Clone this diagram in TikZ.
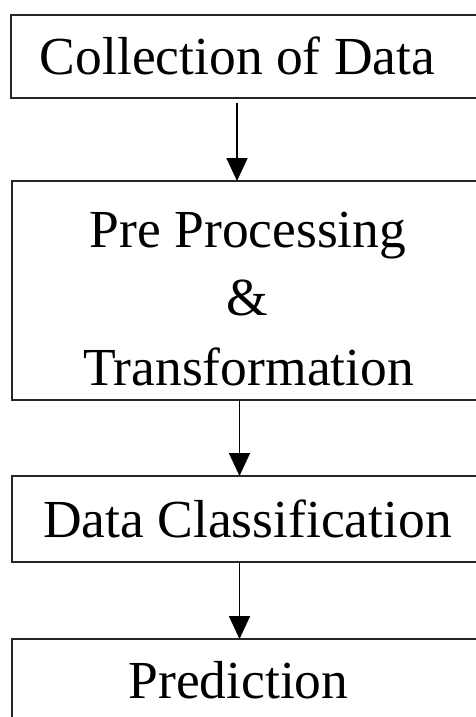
\documentclass[tikz,border=0pt]{standalone}
\usepackage{fontspec}
\setmainfont{Liberation Serif}
\usetikzlibrary{arrows.meta}
\begin{document}
\begin{tikzpicture}[x=1bp,y=-1bp,
  box/.style={draw=black!85, line width=2.2bp, fill=white, rectangle,
    inner sep=0pt, outer sep=0pt, anchor=north west},
  label/.style={anchor=base, inner sep=0pt, font=\fontsize{53.5bp}{69bp}\selectfont},
  arr/.style={draw=black, line width=1.8bp,
    -{Triangle[width=21bp,length=23bp]}}]
  \useasboundingbox (0,0) rectangle (476,717);
  \clip (0,0) rectangle (476,717);
  \fill[white] (0,0) rectangle (476,717);

  % process boxes (they run past the right-hand edge)
  \node[box, minimum width=500bp, minimum height=83bp]  (b1) at (11,15) {};
  \node[box, minimum width=500bp, minimum height=219bp] (b2) at (12,181) {};
  \node[box, minimum width=500bp, minimum height=86bp]  (b3) at (12,476) {};
  \node[box, minimum width=500bp, minimum height=100bp] (b4) at (12,639) {};

  % box texts
  \node[label] (t1) at (237.5,75) {Collection of Data};
  \node[label] (t2a) at (248,247) {Pre Processing};
  \node[label] (t2b) at (247.5,315) {\&};
  \node[label] (t2c) at (248.5,385) {Transformation};
  \node[label] (t3) at (247.5,537) {Data Classification};
  \node[label] (t4) at (238.5,698) {Prediction};

  % arrow columns
  \coordinate (a1) at (237,0);
  \coordinate (a2) at (239.5,0);

  \draw[arr] ([yshift=-5bp]b1.south -| a1) -- (b2.north -| a1);
  \draw[arr] (b2.south -| a2) -- (b3.north -| a2);
  \draw[arr] (b3.south -| a2) -- (b4.north -| a2);
\end{tikzpicture}
\end{document}
